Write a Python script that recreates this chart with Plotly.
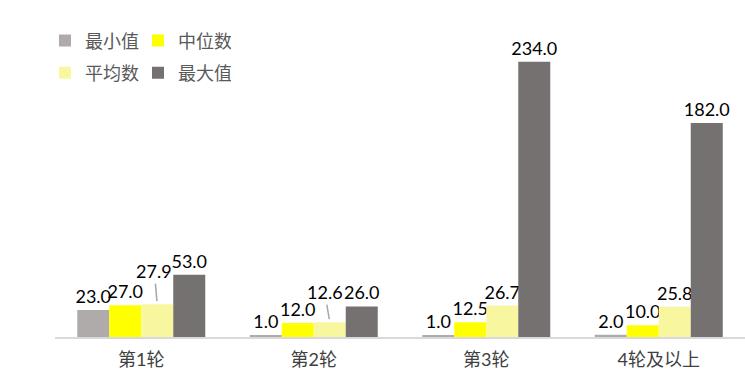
import plotly.graph_objects as go

categories = ["第1轮", "第2轮", "第3轮", "4轮及以上"]
series_names = ["最小值", "中位数", "平均数", "最大值"]
min_vals = [23.0, 1.0, 1.0, 2.0]
median_vals = [27.0, 12.0, 12.5, 10.0]
mean_vals = [27.9, 12.6, 26.7, 25.8]
max_vals = [53.0, 26.0, 234.0, 182.0]
colors = ["#AFABAB", "#FFFF00", "#F8F7A0", "#767171"]
legend_ids = ["legend", "legend", "legend2", "legend2"]

# labels of the mean series that are moved up with a leader line: index -> (dx, dy) pixels
leader_labels = {0: (-3, -33), 1: (-5, -30)}

font_fam = "Lato, 'Noto Sans CJK SC', sans-serif"
bargap = 0.258
n_series = 4
fig = go.Figure()
all_vals = [min_vals, median_vals, mean_vals, max_vals]
for si, (name, vals, col, lg) in enumerate(zip(series_names, all_vals, colors, legend_ids)):
    texts = [f"{v:.1f}" for v in vals]
    if si == 2:
        texts = ["" if i in leader_labels else t for i, t in enumerate(texts)]
    fig.add_trace(go.Bar(
        x=categories, y=vals, name=name, marker=dict(color=col, line=dict(width=0)),
        text=texts, textposition="outside", constraintext="none",
        cliponaxis=False, textfont=dict(family=font_fam, size=18, color="#000000"),
        legend=lg,
    ))

# leader-line labels for the mean series
group_w = 1 - bargap
offset = -group_w / 2 + group_w / n_series * (2 + 0.5)
for i, (dx, dy) in leader_labels.items():
    fig.add_annotation(
        x=i + offset, y=mean_vals[i], xref="x", yref="y",
        text=f"{mean_vals[i]:.1f}", showarrow=True, arrowhead=0, arrowwidth=1.5,
        arrowcolor="#A6A6A6", ax=dx, ay=dy, standoff=3,
        font=dict(family=font_fam, size=18, color="#000000"),
    )

fig.update_layout(
    width=745, height=376,
    margin=dict(l=55, r=0, t=37, b=39),
    paper_bgcolor="white", plot_bgcolor="white",
    barmode="group", bargap=bargap, bargroupgap=0,
    font=dict(family=font_fam, size=18, color="#595959"),
    xaxis=dict(showline=True, linecolor="#D9D9D9", linewidth=1.5, ticks="",
               tickfont=dict(size=18, color="#404040"), showgrid=False,
               ticklabelstandoff=6),
    yaxis=dict(range=[0, 255], visible=False, showgrid=False),
    legend=dict(orientation="h", xref="paper", yref="paper", x=-0.0145, y=0.987,
                xanchor="left", yanchor="middle", entrywidth=48, entrywidthmode="pixels",
                font=dict(size=18, color="#595959"), bgcolor="rgba(0,0,0,0)"),
    legend2=dict(orientation="h", xref="paper", yref="paper", x=-0.0145, y=0.88,
                 xanchor="left", yanchor="middle", entrywidth=48, entrywidthmode="pixels",
                 font=dict(size=18, color="#595959"), bgcolor="rgba(0,0,0,0)"),
    showlegend=True,
)

fig.write_html("out.html")
